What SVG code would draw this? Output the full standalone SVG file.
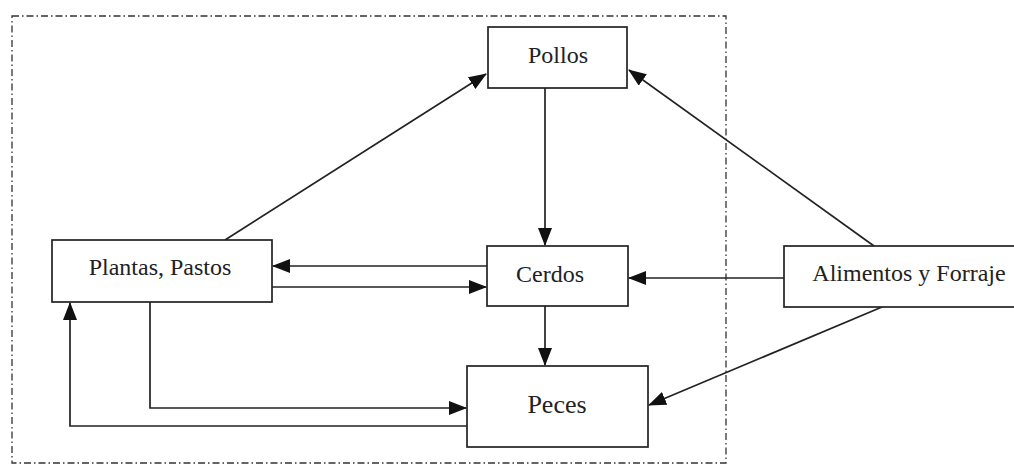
<svg xmlns="http://www.w3.org/2000/svg" width="1014" height="464" viewBox="0 0 1014 464">
<style>
.box{fill:#fff;stroke:#222;stroke-width:1.7}
.lbl{font-family:"Liberation Serif",serif;font-size:24px;fill:#222;text-anchor:middle;dominant-baseline:central}
.con{fill:none;stroke:#222;stroke-width:1.7;marker-end:url(#ah)}
.frame{fill:none;stroke:#333;stroke-width:1.3;stroke-dasharray:7 3 1.5 3}
</style>
<defs>
<marker id="ah" viewBox="0 0 18 14" refX="17" refY="7" markerWidth="18" markerHeight="14" markerUnits="userSpaceOnUse" orient="auto">
<path d="M0,0 L18,7 L0,14 Z" fill="#111"/>
</marker>
</defs>
<rect class="frame" x="12" y="16" width="714" height="447"/>
<g id="connectors">
<path class="con" d="M225,240 L486,74"/>
<path class="con" d="M874,246 L629,70"/>
<path class="con" d="M545,88 L545,245"/>
<path class="con" d="M487,266 L273,266"/>
<path class="con" d="M272,287 L486,287"/>
<path class="con" d="M784,278 L629,278"/>
<path class="con" d="M545,306 L545,365"/>
<path class="con" d="M882,307 L649,405"/>
<path class="con" d="M150,302 L150,408 L466,408"/>
<path class="con" d="M467,426 L70,426 L70,303"/>
</g>
<g id="pollos"><rect class="box" x="488" y="27" width="139" height="61"/><text class="lbl" x="558" y="55">Pollos</text></g>
<g id="plantas"><rect class="box" x="52" y="240" width="220" height="62"/><text class="lbl" x="160" y="267">Plantas, Pastos</text></g>
<g id="cerdos"><rect class="box" x="487" y="246" width="141" height="60"/><text class="lbl" x="550" y="274">Cerdos</text></g>
<g id="peces"><rect class="box" x="467" y="366" width="181" height="81"/><text class="lbl" x="557" y="404" style="font-size:26px">Peces</text></g>
<g id="alimentos"><rect class="box" x="784" y="246" width="240" height="61"/><text class="lbl" x="909" y="273">Alimentos y Forraje</text></g>
</svg>
